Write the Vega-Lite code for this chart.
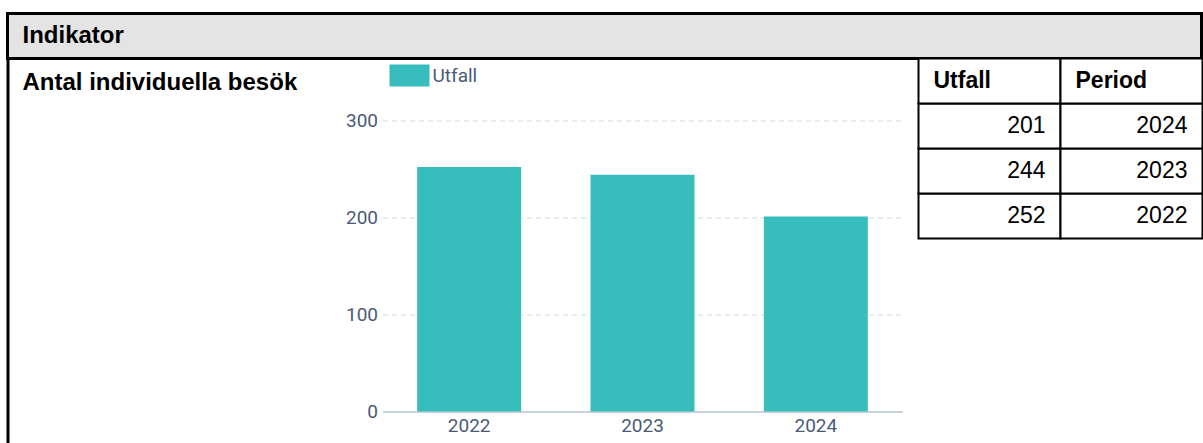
{
  "$schema": "https://vega.github.io/schema/vega-lite/v6.json",
  "padding": {"left": 5.5, "top": 11.5, "right": 0, "bottom": 0},
  "background": "white",
  "datasets": {
    "utfall": [
      {"Period": "2022", "Utfall": 252},
      {"Period": "2023", "Utfall": 244},
      {"Period": "2024", "Utfall": 201}
    ],
    "rubrik": [{"text": "Indikator"}],
    "indikator": [{"text": "Antal individuella besök"}],
    "kolumner": [{"kolumn": "Utfall", "rad": "rubrik"}, {"kolumn": "Period", "rad": "rubrik"}]
  },
  "spacing": 0,
  "bounds": "flush",
  "vconcat": [
    {
      "width": 1194,
      "height": 45,
      "view": {"fill": "#e4e4e4", "stroke": "#000000", "strokeWidth": 3},
      "data": {"name": "rubrik"},
      "mark": {"type": "text", "align": "left", "baseline": "middle", "dx": 15, "font": "Liberation Sans", "fontWeight": "bold", "fontSize": 24, "color": "#000000"},
      "encoding": {
        "x": {"field": "text", "type": "nominal", "axis": null, "scale": {"type": "point", "align": 0, "padding": 0}},
        "text": {"field": "text"}
      }
    },
    {
      "spacing": 16,
      "bounds": "flush",
      "hconcat": [
        {
          "width": 359,
          "height": 385,
          "view": {"stroke": null},
          "data": {"name": "indikator"},
          "mark": {"type": "text", "align": "left", "baseline": "middle", "dx": 15, "dy": 24, "font": "Liberation Sans", "fontWeight": "bold", "fontSize": 24, "color": "#000000"},
          "encoding": {
            "x": {"field": "text", "type": "nominal", "axis": null, "scale": {"type": "point", "align": 0, "padding": 0}},
            "y": {"field": "text", "type": "nominal", "scale": {"type": "point", "align": 0, "padding": 0},
                  "axis": {"title": null, "labels": false, "ticks": false, "grid": false, "domain": true, "domainColor": "#000000", "domainWidth": 3}},
            "text": {"field": "text"}
          }
        },
        {
          "width": 520,
          "height": 353,
          "view": {"stroke": null},
          "data": {"name": "utfall"},
          "mark": {"type": "bar"},
          "encoding": {
            "x": {"field": "Period", "type": "nominal", "sort": ["2022", "2023", "2024"],
                  "scale": {"paddingInner": 0.4, "paddingOuter": 0.2},
                  "axis": {"title": null, "labelAngle": 0, "ticks": false, "domainColor": "#c9d2dd", "domainWidth": 2, "labelFont": "Roboto", "labelFontSize": 19, "labelColor": "#4a5b78", "labelPadding": 5}},
            "y": {"field": "Utfall", "type": "quantitative", "scale": {"domain": [0, 364], "nice": false},
                  "axis": {"title": null, "values": [0, 100, 200, 300], "ticks": false, "domain": false, "gridDash": [5, 4], "gridColor": "#d2d9e2", "labelFont": "Roboto", "labelFontSize": 19, "labelColor": "#4a5b78", "labelPadding": 5}},
            "color": {"datum": "Utfall", "scale": {"range": ["#38bdbd"]},
                      "legend": {"title": null, "orient": "none", "legendX": 382, "legendY": 42, "symbolType": "M-1,-0.55H1V0.55H-1Z", "symbolSize": 1600, "symbolStrokeWidth": 0, "symbolOpacity": 1, "labelFont": "Roboto", "labelFontSize": 19, "labelColor": "#4a5b78", "labelOffset": 3}}
          }
        },
        {
          "width": 284,
          "height": 180,
          "view": {"stroke": null},
          "layer": [
            {
              "data": {"name": "utfall"},
              "transform": [{"fold": ["Utfall", "Period"], "as": ["kolumn", "varde"]}],
              "mark": {"type": "rect", "fill": "#ffffff", "stroke": "#000000", "strokeWidth": 2},
              "encoding": {
                "x": {"field": "kolumn", "type": "nominal", "scale": {"domain": ["Utfall", "Period"], "paddingInner": 0, "paddingOuter": 0}, "axis": null},
                "y": {"field": "Period", "type": "nominal", "scale": {"domain": ["rubrik", "2024", "2023", "2022"], "paddingInner": 0, "paddingOuter": 0}, "axis": null}
              }
            },
            {
              "data": {"name": "kolumner"},
              "mark": {"type": "rect", "fill": "#ffffff", "stroke": "#000000", "strokeWidth": 2},
              "encoding": {
                "x": {"field": "kolumn", "type": "nominal", "axis": null},
                "y": {"field": "rad", "type": "nominal", "scale": {"domain": ["rubrik", "2024", "2023", "2022"]}, "axis": null}
              }
            },
            {
              "data": {"name": "kolumner"},
              "mark": {"type": "text", "align": "left", "baseline": "middle", "dx": 15, "font": "Liberation Sans", "fontWeight": "bold", "fontSize": 23, "color": "#000000"},
              "encoding": {
                "x": {"field": "kolumn", "type": "nominal", "bandPosition": 0, "axis": null},
                "y": {"field": "rad", "type": "nominal", "scale": {"domain": ["rubrik", "2024", "2023", "2022"]}, "axis": null},
                "text": {"field": "kolumn"}
              }
            },
            {
              "data": {"name": "utfall"},
              "transform": [{"fold": ["Utfall", "Period"], "as": ["kolumn", "varde"]}],
              "mark": {"type": "text", "align": "right", "baseline": "middle", "dx": -15, "font": "Liberation Sans", "fontSize": 23, "color": "#000000"},
              "encoding": {
                "x": {"field": "kolumn", "type": "nominal", "bandPosition": 1, "axis": null},
                "y": {"field": "Period", "type": "nominal", "scale": {"domain": ["rubrik", "2024", "2023", "2022"]}, "axis": null},
                "text": {"field": "varde"}
              }
            }
          ]
        }
      ]
    }
  ]
}
